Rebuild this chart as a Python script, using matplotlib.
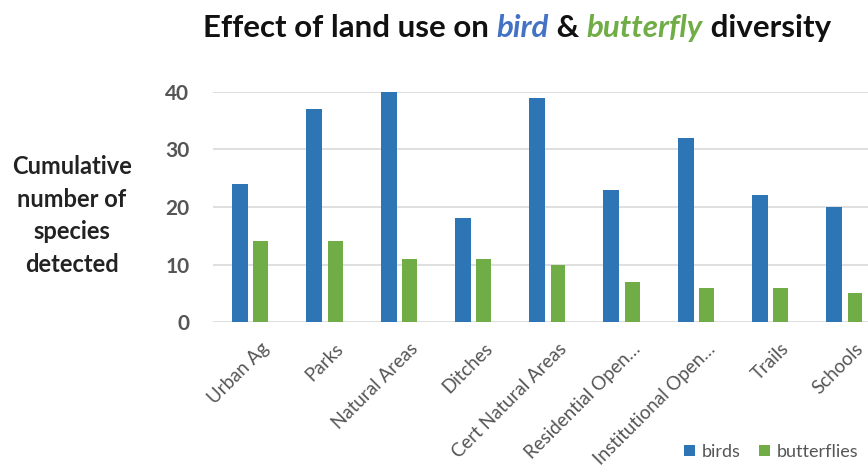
import matplotlib.pyplot as plt
import numpy as np

plt.rcParams['font.family'] = ['Lato', 'DejaVu Sans']

categories = ["Urban Ag", "Parks", "Natural Areas", "Ditches", "Cert Natural Areas",
              "Residential Open…", "Institutional Open…", "Trails", "Schools"]
birds = [24, 37, 40, 18, 39, 23, 32, 22, 20]
butterflies = [14, 14, 11, 11, 10, 7, 6, 6, 5]
yticks = [0, 10, 20, 30, 40]

blue = "#2e75b6"
green = "#70ad47"
grey = "#555555"

fig = plt.figure(figsize=(8.68, 4.66), dpi=100)
ax = fig.add_axes([0.2454, 0.309, 0.770, 0.4936])

x = np.arange(len(categories))
ax.bar(x - 0.135, birds, width=0.215, color=blue, label="birds", zorder=3)
ax.bar(x + 0.145, butterflies, width=0.2, color=green, label="butterflies", zorder=3)

ax.set_xlim(-0.5, len(categories) - 0.5)
ax.set_ylim(0, 40)
ax.set_yticks(yticks)
ax.grid(axis="y", color="#d9d9d9", linewidth=1.2, zorder=0)
ax.grid(axis="x", visible=False)
for s in ax.spines.values():
    s.set_visible(False)
ax.tick_params(axis="both", length=0, colors=grey)
ax.tick_params(axis="y", pad=17, labelsize=15)
ax.tick_params(axis="x", pad=13)
ax.set_xticks(x + 0.14)
ax.set_xticklabels(categories, rotation=45, ha="right", rotation_mode="anchor",
                   fontsize=13.5, color=grey)
for lbl in ax.get_yticklabels():
    lbl.set_fontweight("bold")

fig.text(0.083, 0.538, "Cumulative\nnumber of\nspecies\ndetected", ha="center", va="center",
         fontsize=17, fontweight="bold", linespacing=1.5, color="#222222")

# title in coloured pieces
parts = [("Effect of land use on ", "#111111", "normal"),
         ("bird", "#4472c4", "italic"),
         (" & ", "#111111", "normal"),
         ("butterfly", green, "italic"),
         (" diversity", "#111111", "normal")]
fig.canvas.draw()
renderer = fig.canvas.get_renderer()
texts = []
for s, c, st in parts:
    t = fig.text(0, 0.94, s, color=c, fontstyle=st, fontweight="bold", fontsize=22.5,
                 ha="left", va="center")
    texts.append(t)
widths = [t.get_window_extent(renderer).width for t in texts]
total = sum(widths)
xpos = 517 - total / 2
for t, w in zip(texts, widths):
    t.set_x(xpos / 868)
    xpos += w

fig.legend(loc="lower right", bbox_to_anchor=(1.008, -0.022), ncol=2, frameon=False,
           fontsize=13, handlelength=0.6, handleheight=0.6, handletextpad=0.4,
           columnspacing=1.0, labelcolor=grey)

fig.savefig("out.png", dpi=100)
